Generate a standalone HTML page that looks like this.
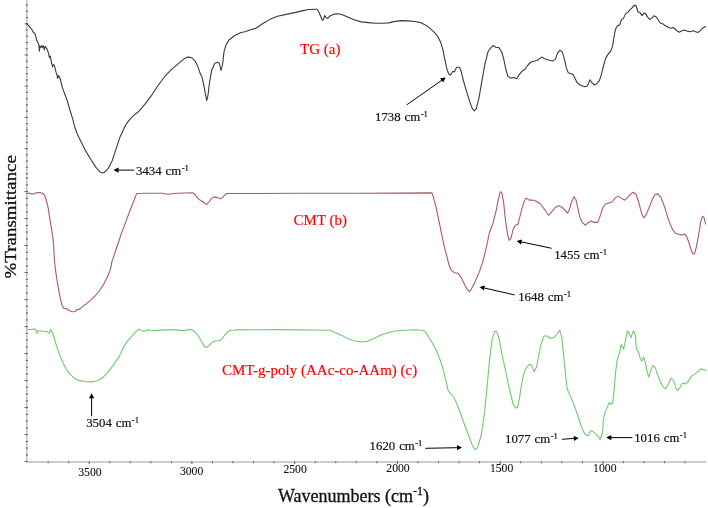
<!DOCTYPE html>
<html><head><meta charset="utf-8"><style>
html,body{margin:0;padding:0;background:#fff;}
svg{display:block;will-change:transform;}
text{font-family:"Liberation Serif",serif;}
</style></head><body>
<svg width="708" height="508" viewBox="0 0 708 508">
<rect width="708" height="508" fill="#fff"/>
<line x1="26.8" y1="0" x2="26.8" y2="462" stroke="#bdbdbd" stroke-width="1.4"/>
<line x1="26.8" y1="462" x2="706.5" y2="462" stroke="#bdbdbd" stroke-width="1.4"/>
<g stroke="#606060" stroke-width="1.05"><line x1="25.8" y1="5.1" x2="28" y2="5.1"/><line x1="25.8" y1="11.3" x2="28" y2="11.3"/><line x1="25.8" y1="17.6" x2="28" y2="17.6"/><line x1="24.7" y1="23.8" x2="28" y2="23.8"/><line x1="25.8" y1="30.0" x2="28" y2="30.0"/><line x1="25.8" y1="36.3" x2="28" y2="36.3"/><line x1="25.8" y1="42.5" x2="28" y2="42.5"/><line x1="25.8" y1="48.8" x2="28" y2="48.8"/><line x1="24.7" y1="55.0" x2="28" y2="55.0"/><line x1="25.8" y1="61.2" x2="28" y2="61.2"/><line x1="25.8" y1="67.5" x2="28" y2="67.5"/><line x1="25.8" y1="73.7" x2="28" y2="73.7"/><line x1="25.8" y1="80.0" x2="28" y2="80.0"/><line x1="24.7" y1="86.2" x2="28" y2="86.2"/><line x1="25.8" y1="92.4" x2="28" y2="92.4"/><line x1="25.8" y1="98.7" x2="28" y2="98.7"/><line x1="25.8" y1="104.9" x2="28" y2="104.9"/><line x1="25.8" y1="111.2" x2="28" y2="111.2"/><line x1="24.7" y1="117.4" x2="28" y2="117.4"/><line x1="25.8" y1="123.6" x2="28" y2="123.6"/><line x1="25.8" y1="129.9" x2="28" y2="129.9"/><line x1="25.8" y1="136.1" x2="28" y2="136.1"/><line x1="25.8" y1="142.4" x2="28" y2="142.4"/><line x1="24.7" y1="148.6" x2="28" y2="148.6"/><line x1="25.8" y1="154.8" x2="28" y2="154.8"/><line x1="25.8" y1="161.1" x2="28" y2="161.1"/><line x1="25.8" y1="167.3" x2="28" y2="167.3"/><line x1="25.8" y1="173.6" x2="28" y2="173.6"/><line x1="24.5" y1="461.6" x2="28" y2="461.6"/><line x1="25.8" y1="454.9" x2="28" y2="454.9"/><line x1="25.8" y1="448.1" x2="28" y2="448.1"/><line x1="25.8" y1="441.4" x2="28" y2="441.4"/><line x1="24.5" y1="434.6" x2="28" y2="434.6"/><line x1="25.8" y1="427.9" x2="28" y2="427.9"/><line x1="25.8" y1="421.1" x2="28" y2="421.1"/><line x1="25.8" y1="414.4" x2="28" y2="414.4"/><line x1="24.5" y1="407.6" x2="28" y2="407.6"/><line x1="25.8" y1="400.9" x2="28" y2="400.9"/><line x1="25.8" y1="394.1" x2="28" y2="394.1"/><line x1="25.8" y1="387.4" x2="28" y2="387.4"/><line x1="24.5" y1="380.6" x2="28" y2="380.6"/><line x1="25.8" y1="373.9" x2="28" y2="373.9"/><line x1="25.8" y1="367.1" x2="28" y2="367.1"/><line x1="25.8" y1="360.4" x2="28" y2="360.4"/><line x1="24.5" y1="353.6" x2="28" y2="353.6"/><line x1="25.8" y1="346.9" x2="28" y2="346.9"/><line x1="25.8" y1="340.1" x2="28" y2="340.1"/><line x1="25.8" y1="333.4" x2="28" y2="333.4"/><line x1="24.5" y1="326.6" x2="28" y2="326.6"/><line x1="25.8" y1="319.9" x2="28" y2="319.9"/><line x1="25.8" y1="313.1" x2="28" y2="313.1"/><line x1="25.8" y1="306.4" x2="28" y2="306.4"/><line x1="24.5" y1="299.6" x2="28" y2="299.6"/><line x1="25.8" y1="292.9" x2="28" y2="292.9"/><line x1="25.8" y1="286.1" x2="28" y2="286.1"/><line x1="25.8" y1="279.4" x2="28" y2="279.4"/><line x1="24.5" y1="272.6" x2="28" y2="272.6"/><line x1="25.8" y1="265.9" x2="28" y2="265.9"/><line x1="25.8" y1="259.1" x2="28" y2="259.1"/><line x1="25.8" y1="252.4" x2="28" y2="252.4"/><line x1="24.5" y1="245.6" x2="28" y2="245.6"/><line x1="25.8" y1="238.9" x2="28" y2="238.9"/><line x1="25.8" y1="232.1" x2="28" y2="232.1"/><line x1="25.8" y1="225.4" x2="28" y2="225.4"/><line x1="24.5" y1="218.6" x2="28" y2="218.6"/><line x1="25.8" y1="211.9" x2="28" y2="211.9"/><line x1="25.8" y1="205.1" x2="28" y2="205.1"/><line x1="25.8" y1="198.4" x2="28" y2="198.4"/><line x1="24.5" y1="191.6" x2="28" y2="191.6"/><line x1="25.8" y1="184.9" x2="28" y2="184.9"/><line x1="25.8" y1="178.1" x2="28" y2="178.1"/></g>
<g stroke="#606060" stroke-width="1.05"><line x1="48.1" y1="461.2" x2="48.1" y2="463.2"/><line x1="68.7" y1="461.2" x2="68.7" y2="463.2"/><line x1="89.2" y1="461.2" x2="89.2" y2="464.1"/><line x1="109.7" y1="461.2" x2="109.7" y2="463.2"/><line x1="130.3" y1="461.2" x2="130.3" y2="463.2"/><line x1="150.8" y1="461.2" x2="150.8" y2="463.2"/><line x1="171.4" y1="461.2" x2="171.4" y2="463.2"/><line x1="191.9" y1="461.2" x2="191.9" y2="464.1"/><line x1="212.5" y1="461.2" x2="212.5" y2="463.2"/><line x1="233.0" y1="461.2" x2="233.0" y2="463.2"/><line x1="253.6" y1="461.2" x2="253.6" y2="463.2"/><line x1="274.1" y1="461.2" x2="274.1" y2="463.2"/><line x1="294.7" y1="461.2" x2="294.7" y2="464.1"/><line x1="315.2" y1="461.2" x2="315.2" y2="463.2"/><line x1="335.8" y1="461.2" x2="335.8" y2="463.2"/><line x1="356.3" y1="461.2" x2="356.3" y2="463.2"/><line x1="376.9" y1="461.2" x2="376.9" y2="463.2"/><line x1="397.4" y1="461.2" x2="397.4" y2="464.1"/><line x1="418.0" y1="461.2" x2="418.0" y2="463.2"/><line x1="438.5" y1="461.2" x2="438.5" y2="463.2"/><line x1="459.1" y1="461.2" x2="459.1" y2="463.2"/><line x1="479.6" y1="461.2" x2="479.6" y2="463.2"/><line x1="500.2" y1="461.2" x2="500.2" y2="464.1"/><line x1="520.7" y1="461.2" x2="520.7" y2="463.2"/><line x1="541.3" y1="461.2" x2="541.3" y2="463.2"/><line x1="561.8" y1="461.2" x2="561.8" y2="463.2"/><line x1="582.4" y1="461.2" x2="582.4" y2="463.2"/><line x1="602.9" y1="461.2" x2="602.9" y2="464.1"/><line x1="623.4" y1="461.2" x2="623.4" y2="463.2"/><line x1="644.0" y1="461.2" x2="644.0" y2="463.2"/><line x1="664.5" y1="461.2" x2="664.5" y2="463.2"/><line x1="685.1" y1="461.2" x2="685.1" y2="463.2"/></g>
<g fill="none" stroke-linejoin="round" stroke-linecap="round">
<polyline stroke="#3a3a3a" stroke-width="1.1" points="26.4,23.3 28.5,25.4 30.6,28.2 32.0,29.7 33.4,32.5 34.8,33.2 35.7,36.0 36.6,40.3 37.9,42.5 38.8,44.2 39.4,51.2 39.9,46.0 40.9,47.3 41.8,45.5 42.7,47.7 43.5,46.0 44.4,49.9 45.3,46.4 46.1,47.7 47.0,49.0 47.9,51.2 48.7,54.2 49.4,57.7 50.3,56.0 50.9,59.4 51.8,63.8 52.6,66.8 53.5,64.6 54.4,65.5 55.2,69.0 56.1,72.4 57.0,75.0 57.6,78.5 58.5,75.5 59.3,76.8 60.5,79.8 62.2,86.9 63.9,91.8 66.9,99.7 69.8,109.5 72.8,119.4 74.8,127.2 77.7,135.1 81.7,143.0 85.6,150.9 90.5,158.7 95.4,166.6 99.4,171.5 101.7,172.9 104.3,172.5 108.2,168.6 112.2,160.7 116.1,148.9 120.0,137.1 125.0,126.3 128.9,120.4 133.8,115.4 138.7,111.5 144.6,104.6 150.6,96.7 156.5,87.8 165.2,75.8 171.6,69.3 178.1,63.9 184.6,58.4 187.9,56.9 192.2,58.0 195.5,61.7 198.1,67.1 200.2,73.6 201.9,76.8 203.7,84.4 205.2,93.1 206.7,100.6 208.0,95.2 209.5,82.3 211.7,70.3 214.9,63.2 217.5,62.3 219.3,63.2 221.0,70.3 222.5,64.9 224.0,51.9 225.8,45.5 229.0,40.0 234.4,35.7 240.9,32.5 245.0,31.8 250.6,29.7 256.3,28.0 263.4,23.3 270.4,19.1 277.5,16.2 287.4,14.1 295.8,12.4 302.9,10.6 308.6,9.5 314.2,9.2 317.3,9.2 319.2,12.7 321.3,17.7 322.4,20.2 323.4,19.8 324.8,15.5 326.2,17.7 327.6,18.4 330.5,15.5 334.7,14.1 338.2,13.8 341.8,14.5 347.1,16.7 354.1,19.8 361.2,21.9 368.2,22.6 375.3,23.3 382.4,23.3 388.7,22.9 393.7,21.6 400.7,20.6 407.8,20.9 414.9,21.5 420.5,22.6 426.2,25.4 430.0,28.3 433.9,31.8 437.9,36.7 440.8,42.6 442.8,49.5 444.8,59.4 446.7,68.2 448.7,74.1 450.7,75.1 452.6,71.6 454.6,71.6 456.6,67.2 459.5,67.2 461.1,71.2 463.5,81.0 466.4,90.9 469.4,100.7 472.3,108.6 474.3,110.9 476.3,108.6 479.2,96.8 482.2,79.1 485.1,63.3 488.1,51.5 491.0,47.6 493.0,45.6 495.9,47.2 498.9,47.6 501.9,52.5 503.8,59.4 505.8,69.2 507.8,76.1 510.7,78.1 513.7,77.5 516.6,78.7 519.6,74.1 522.5,70.8 525.0,69.3 528.0,65.0 530.9,62.0 534.8,61.0 537.8,60.0 541.7,57.1 544.7,58.7 548.6,60.0 552.6,61.0 555.5,59.1 557.5,53.1 560.0,50.2 562.4,52.2 564.4,59.1 566.3,67.9 568.3,72.8 571.3,73.8 573.2,74.8 575.2,78.7 577.2,82.7 580.1,85.0 584.1,86.6 587.0,86.2 588.4,83.7 590.0,79.7 591.9,82.7 594.3,85.0 596.9,83.7 599.4,80.7 601.8,72.8 603.7,65.0 605.7,58.1 608.0,54.4 610.8,50.8 612.5,46.6 613.6,39.5 614.8,32.5 616.2,27.5 617.9,25.4 619.6,25.1 621.4,19.8 623.5,18.4 625.7,13.4 627.8,12.4 629.9,9.9 632.0,7.8 634.1,5.4 636.0,5.6 637.0,8.5 638.0,12.0 639.8,12.4 641.9,15.5 644.0,13.4 645.4,13.4 647.5,16.9 649.7,19.5 651.8,18.1 653.9,15.8 656.0,16.7 658.1,19.8 660.3,23.0 663.1,24.0 665.9,26.1 668.7,27.5 670.9,28.2 673.0,27.5 675.1,29.0 677.2,31.1 679.3,32.2 681.4,31.1 684.3,29.9 687.1,31.1 689.9,31.8 693.5,30.8 695.6,31.8 697.7,32.5 699.8,31.1 702.6,28.2 705.5,26.6"/>
<polyline stroke="#a85c64" stroke-width="1.1" points="26.6,193.2 29.7,193.4 32.6,194.0 34.4,193.6 36.0,192.9 38.4,192.6 40.7,192.8 43.1,193.8 44.7,195.5 46.3,200.5 48.3,208.3 49.4,216.2 51.0,225.7 52.6,235.1 53.7,246.1 54.4,260.0 55.4,269.1 56.4,276.2 57.5,283.2 59.0,291.7 60.4,298.8 62.2,305.8 63.9,308.4 66.7,308.7 69.5,310.8 72.4,311.8 75.2,311.5 77.3,309.4 79.4,309.4 82.3,306.6 86.5,303.7 90.7,300.2 95.0,296.0 99.2,291.0 103.4,284.7 107.7,276.2 110.5,269.1 111.8,262.2 116.5,248.0 118.9,241.0 121.2,233.9 124.8,224.4 128.3,215.0 130.6,209.0 133.4,202.0 135.5,196.3 136.9,193.5 148.2,193.2 162.4,193.2 167.3,194.2 176.5,193.2 192.7,192.8 194.9,194.2 197.7,198.4 200.0,200.0 202.8,201.7 206.8,204.5 209.0,202.0 211.3,198.6 213.6,197.1 217.0,197.4 220.3,198.8 222.6,197.4 224.9,194.9 226.6,193.5 240.0,193.5 300.0,193.3 360.0,193.2 432.0,192.9 433.5,197.4 435.2,204.2 437.4,213.3 439.7,224.6 442.0,235.9 444.2,246.1 446.5,255.1 448.8,264.2 451.0,269.8 454.4,272.8 457.8,273.2 460.7,276.6 463.5,282.3 466.4,287.9 469.1,291.8 471.4,289.1 474.8,282.3 479.3,272.1 482.7,261.9 486.1,248.3 489.5,232.5 492.9,223.5 496.3,209.9 498.5,198.6 500.3,191.8 501.9,192.9 503.7,203.1 505.3,218.9 507.6,234.8 509.2,240.4 511.0,238.2 513.2,229.1 515.5,225.3 517.8,224.5 519.9,216.7 522.1,208.2 524.2,201.2 526.3,198.1 529.1,200.1 532.7,200.1 536.9,201.5 540.4,204.0 544.7,209.7 548.6,215.3 551.7,211.8 555.3,207.5 558.8,205.7 562.3,207.5 565.1,210.4 567.5,213.2 569.4,209.7 571.5,201.9 574.0,196.7 576.0,199.8 577.9,208.2 579.7,216.7 582.1,222.4 585.6,225.2 588.4,222.4 591.3,221.0 594.1,222.4 597.6,222.4 599.7,217.4 602.6,208.2 605.4,204.0 608.0,203.2 611.9,202.0 615.1,198.1 618.2,196.1 621.4,198.1 624.5,200.2 627.7,197.3 630.8,193.9 633.2,192.3 636.0,194.5 638.2,200.5 640.3,208.3 642.3,215.4 644.2,217.8 646.6,213.9 649.7,206.0 652.9,198.1 655.2,194.2 658.1,193.9 660.8,197.3 663.1,202.8 665.5,209.9 667.8,217.8 670.2,224.1 672.6,229.6 675.7,233.5 678.9,234.3 682.0,235.1 684.9,233.9 686.7,236.7 689.1,243.0 691.5,250.9 693.0,254.0 694.6,253.7 696.2,247.7 698.6,235.1 700.9,220.9 702.5,216.2 704.1,217.8 705.6,224.1"/>
<polyline stroke="#72c872" stroke-width="1.1" points="27.4,329.5 31.3,329.5 34.4,328.9 36.0,330.0 36.8,333.1 38.4,330.7 40.7,330.7 43.9,331.5 47.0,331.5 49.4,333.1 50.5,329.5 52.1,332.3 54.1,337.0 55.7,343.3 58.1,350.4 60.4,356.7 62.8,362.2 65.9,368.5 69.9,374.1 73.8,377.7 78.5,380.4 84.8,381.5 91.1,381.9 97.4,380.8 102.2,378.0 106.9,373.3 113.2,365.4 119.5,355.9 123.4,347.2 126.8,342.1 130.2,337.9 134.4,333.3 138.3,329.4 141.2,330.3 144.1,331.4 147.1,329.9 150.5,330.3 153.9,330.6 164.1,329.9 174.2,329.9 184.4,330.6 189.5,329.4 192.0,329.9 194.6,331.4 198.0,335.3 201.4,341.3 204.4,346.4 206.4,347.5 209.0,345.5 212.4,342.1 215.8,340.8 219.2,340.8 221.7,339.1 225.1,334.5 229.3,330.6 233.6,330.3 237.0,329.9 280.0,329.6 330.2,330.2 335.3,332.7 342.0,335.6 348.8,339.0 353.9,340.8 361.5,342.0 367.5,341.2 374.2,338.6 381.0,334.9 387.8,332.7 394.6,331.0 404.7,330.2 414.9,329.8 421.7,330.2 425.1,331.5 430.2,339.5 435.2,348.0 439.1,357.0 442.9,368.5 445.5,378.7 448.0,390.2 450.6,394.1 453.6,396.6 457.0,404.3 460.8,414.5 464.6,424.7 468.5,435.0 472.3,445.2 474.9,449.6 477.4,447.8 481.3,435.0 484.3,414.5 486.9,388.9 489.5,360.8 492.0,340.3 494.6,331.4 496.6,331.4 499.2,339.1 501.7,353.1 505.6,371.0 509.4,388.9 513.2,404.3 515.8,408.1 517.5,407.4 519.4,398.8 521.2,386.5 523.6,374.2 526.1,368.0 529.3,364.3 531.7,365.6 534.2,371.7 536.7,366.8 538.4,356.9 540.9,344.6 544.1,336.0 547.0,336.0 550.7,338.5 554.4,337.2 557.4,333.5 559.8,330.3 561.8,337.2 563.8,356.9 565.5,374.2 567.2,389.0 570.4,396.4 574.1,405.0 577.1,413.6 579.5,421.0 582.0,428.4 585.2,434.5 588.2,435.8 590.9,430.3 593.8,432.1 597.5,435.8 600.0,439.5 602.4,433.3 603.5,419.4 604.9,412.5 607.5,406.6 609.4,402.6 611.4,404.2 612.8,402.6 614.2,388.9 615.7,371.2 617.3,359.3 619.3,353.4 621.2,344.6 623.6,349.1 625.6,339.7 627.5,330.8 629.5,334.2 631.1,337.7 632.5,332.8 633.8,330.8 635.4,335.7 636.4,349.5 638.4,351.5 640.3,358.4 641.7,361.3 643.7,357.0 645.6,363.3 647.2,372.1 648.8,377.1 650.8,370.2 652.7,365.6 655.1,367.2 657.4,374.1 660.0,381.0 663.0,386.9 665.3,388.9 667.9,384.9 671.2,378.0 673.8,381.0 675.7,387.9 677.7,390.4 679.7,387.9 682.2,383.3 685.6,383.9 688.5,381.0 691.5,376.1 694.4,374.1 697.4,372.1 700.7,368.8 703.9,369.6 706.2,370.8"/>
</g>
<g fill="#111" font-size="11.7" stroke="#111" stroke-width="0.08">
<text transform="translate(78.2 475.8) scale(1 1.0)" >3500</text><text transform="translate(179.9 474.8) scale(1 1.0)" >3000</text><text transform="translate(283.4 473.4) scale(1 1.0)" >2500</text><text transform="translate(386.3 472.2) scale(1 1.0)" >2000</text><text transform="translate(489.9 472.4) scale(1 1.0)" >1500</text><text transform="translate(593.1 472.4) scale(1 1.0)" >1000</text>
</g>
<g fill="#f00" font-size="15" stroke="#f00" stroke-width="0.15">
<text transform="translate(300 53.8) scale(1 1.0)" >TG (a)</text>
<text transform="translate(293.6 225.1) scale(1 1.0)" >CMT (b)</text>
<text transform="translate(222 374.6) scale(1 1.0)" >CMT-g-poly (AAc-co-AAm) (c)</text>
</g>
<g fill="#111" stroke="#111" stroke-width="0.2">
<text transform="translate(136 174.8) scale(1 1.0)" font-size="12.8">3434 <tspan dx="0.8">cm</tspan><tspan dx="0.4" font-size="8.7" dy="-4.1">-1</tspan></text>
<text transform="translate(375 120.7) scale(1 1.0)" font-size="12.8">1738 <tspan dx="0.8">cm</tspan><tspan dx="0.4" font-size="8.7" dy="-4.1">-1</tspan></text>
<text transform="translate(554.2 258.9) scale(1 1.0)" font-size="12.8">1455 <tspan dx="0.8">cm</tspan><tspan dx="0.4" font-size="8.7" dy="-4.1">-1</tspan></text>
<text transform="translate(518.2 300.6) scale(1 1.0)" font-size="12.8">1648 <tspan dx="0.8">cm</tspan><tspan dx="0.4" font-size="8.7" dy="-4.1">-1</tspan></text>
<text transform="translate(86.2 427.3) scale(1 1.0)" font-size="12.8">3504 <tspan dx="0.8">cm</tspan><tspan dx="0.4" font-size="8.7" dy="-4.1">-1</tspan></text>
<text transform="translate(369.6 449.7) scale(1 1.0)" font-size="12.8">1620 <tspan dx="0.8">cm</tspan><tspan dx="0.4" font-size="8.7" dy="-4.1">-1</tspan></text>
<text transform="translate(505 443.3) scale(1 1.0)" font-size="12.8">1077 <tspan dx="0.8">cm</tspan><tspan dx="0.4" font-size="8.7" dy="-4.1">-1</tspan></text>
<text transform="translate(634.2 441.8) scale(1 1.0)" font-size="12.8">1016 <tspan dx="0.8">cm</tspan><tspan dx="0.4" font-size="8.7" dy="-4.1">-1</tspan></text>
</g>
<line x1="134.0" y1="170.1" x2="118.0" y2="170.1" stroke="#000" stroke-width="1"/><polygon points="113.5,170.1 118.5,167.5 118.5,172.7" fill="#000"/>
<line x1="406.7" y1="104.9" x2="442.0" y2="80.1" stroke="#000" stroke-width="1"/><polygon points="445.7,77.5 443.1,82.5 440.1,78.2" fill="#000"/>
<line x1="551.6" y1="248.3" x2="521.0" y2="241.8" stroke="#000" stroke-width="1"/><polygon points="516.6,240.9 522.0,239.4 521.0,244.5" fill="#000"/>
<line x1="514.5" y1="294.9" x2="483.9" y2="287.9" stroke="#000" stroke-width="1"/><polygon points="479.5,286.9 485.0,285.5 483.8,290.5" fill="#000"/>
<line x1="91.6" y1="416.2" x2="91.6" y2="397.8" stroke="#000" stroke-width="1"/><polygon points="91.6,393.3 94.2,398.3 89.0,398.3" fill="#000"/>
<line x1="425.3" y1="448.3" x2="457.5" y2="447.7" stroke="#000" stroke-width="1"/><polygon points="462.0,447.6 457.1,450.3 457.0,445.1" fill="#000"/>
<line x1="562.0" y1="439.3" x2="574.3" y2="438.4" stroke="#000" stroke-width="1"/><polygon points="578.8,438.1 574.0,441.0 573.6,435.9" fill="#000"/>
<line x1="632.3" y1="437.6" x2="610.8" y2="437.6" stroke="#000" stroke-width="1"/><polygon points="606.3,437.6 611.3,435.0 611.3,440.2" fill="#000"/>
<text transform="translate(278 502.0) scale(1 1.0)" font-size="18" fill="#111" stroke="#111" stroke-width="0.3">Wavenumbers (cm<tspan font-size="12" dy="-7">-1</tspan><tspan dy="7">)</tspan></text>
<text transform="translate(15.6 278.4) rotate(-90) scale(1.10 1)" font-size="17.2" fill="#111" stroke="#111" stroke-width="0.3">%Transmittance</text>
</svg>
</body></html>
